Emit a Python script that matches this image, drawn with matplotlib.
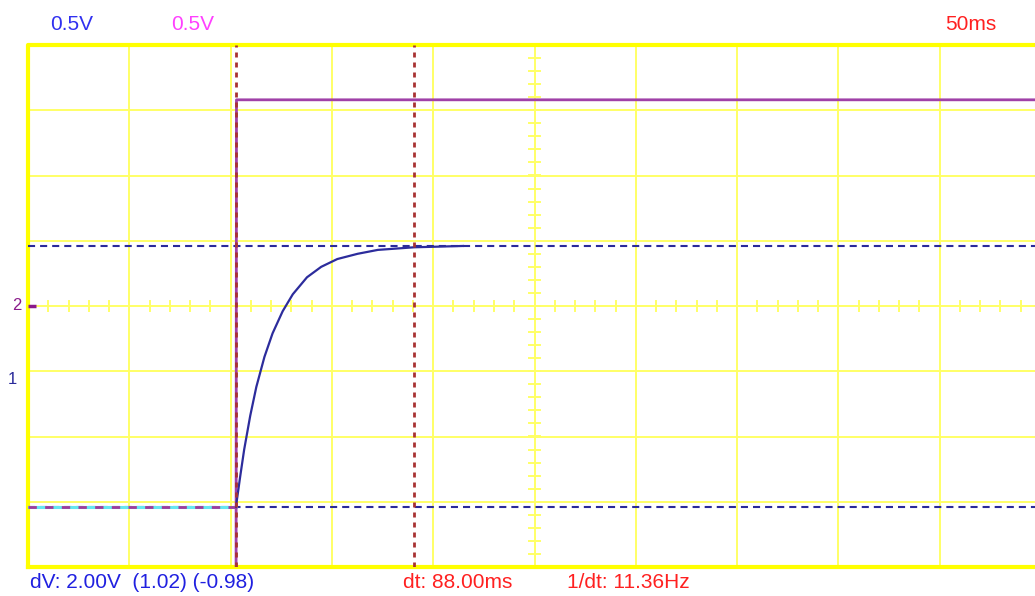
import numpy as np
import matplotlib.pyplot as plt

# scope settings
volts_per_div = 0.5
ms_per_div = 50
ch1_offset_div = -1.12   # ground marker of channel 1
ch2_offset_div = 0.0     # ground marker of channel 2

# cursors
cursor_t = [102.7, 190.7]        # ms
cursor_v = [-0.98, 1.02]         # V (channel 1)

# channel 1 (capacitor voltage)
ch1_pre_t = [0, 102.7]
ch1_pre_v = [-0.98, -0.98]
ch1_t = [102.7, 102.9, 104.7, 106.7, 109.7, 112.7, 116.7, 120.7, 125.7, 130.7,
         137.7, 144.7, 152.7, 162.7, 172.7, 190.7, 214.7]
ch1_v = [-0.98, -0.95, -0.75, -0.54, -0.28, -0.06, 0.17, 0.35, 0.52, 0.65,
         0.78, 0.86, 0.92, 0.96, 0.99, 1.01, 1.02]

# channel 2 (square wave input)
ch2_pre_t = [0, 102.7]
ch2_pre_v = [-1.54, -1.54]
ch2_t = [102.7, 102.7, 102.9, 500]
ch2_v = [-2.1, -2.1, 1.58, 1.58]

top_labels = ['0.5V', '0.5V', '50ms']
bottom_labels = ['dV: 2.00V  (1.02) (-0.98)', 'dt: 88.00ms', '1/dt: 11.36Hz']


def to_div(v, offset):
    return np.asarray(v) / volts_per_div + offset


W, H = 1035, 596
fig = plt.figure(figsize=(W / 100, H / 100), dpi=100)
fig.patch.set_facecolor('white')
ax = fig.add_axes([28 / W, (H - 567) / H, 1013 / W, 522 / H])
ax.set_xlim(0, 10 * ms_per_div)
ax.set_ylim(-4, 4)
ax.axis('off')

grid_col = '#FFFF66'
for i in range(1, 10):
    ax.axvline(i * ms_per_div, color=grid_col, lw=1.4, zorder=1)
for j in range(-3, 4):
    ax.axhline(j, color=grid_col, lw=1.4, zorder=1)

# small ticks on the centre lines
for k in np.arange(-4, 4.01, 0.2):
    ax.plot([250 - 2.5, 250 + 2.5], [k, k], color=grid_col, lw=1.4, zorder=1)
for k in np.arange(0, 500.1, 10):
    ax.plot([k, k], [-0.077, 0.077], color=grid_col, lw=1.4, zorder=1)

# frame
ax.plot([0, 500, 500, 0, 0], [-4, -4, 4, 4, -4], color='#FFFF00', lw=3, zorder=1,
        clip_on=False)

# horizontal cursors (under traces)
for v in cursor_v:
    ax.axhline(to_div(v, ch1_offset_div), color='#2A2A9A', lw=1.5,
               ls=(0, (3.4, 2.4)), zorder=2)

# traces
ax.plot(ch1_pre_t, to_div(ch1_pre_v, ch1_offset_div), color='#66E6F0', lw=2.2, zorder=3)
ax.plot(ch2_pre_t, to_div(ch2_pre_v, ch2_offset_div), color='#A03A9A', lw=2.0,
        ls=(0, (3, 3)), zorder=3)
ax.plot(ch2_t, to_div(ch2_v, ch2_offset_div), color='#A040A8', lw=2.0, zorder=3)
ax.plot(ch1_t, to_div(ch1_v, ch1_offset_div), color='#2C2C9C', lw=1.6, zorder=3)

# vertical cursors (over traces)
for t in cursor_t:
    ax.axvline(t, color='#A83232', lw=2.0, ls=(0, (1.8, 1.8)), zorder=4)

# channel markers
ax.plot([0, 8 * 500 / 1013], [ch2_offset_div, ch2_offset_div], color='#8A1A8A', lw=2.5,
        zorder=5, solid_capstyle='butt')
fig.text(17 / W, 1 - 306 / H, '2', color='#8A1A8A', fontsize=12, ha='center', va='center',
         family='Liberation Sans')
fig.text(12 / W, 1 - 379 / H, '1', color='#2A2A9A', fontsize=12, ha='center', va='center',
         family='Liberation Sans')

# labels
font = dict(fontsize=15, family='Liberation Sans', va='center', ha='left')
fig.text(50 / W, 1 - 25 / H, top_labels[0], color='#3030F0', **font)
fig.text(171 / W, 1 - 25 / H, top_labels[1], color='#FF40FF', **font)
fig.text(945 / W, 1 - 25 / H, top_labels[2], color='#FF2020', **font)
fig.text(30 / W, 1 - 583 / H, bottom_labels[0], color='#2020E0', **font)
fig.text(403 / W, 1 - 583 / H, bottom_labels[1], color='#FF2020', **font)
fig.text(567 / W, 1 - 583 / H, bottom_labels[2], color='#FF2020', **font)

fig.savefig('out.png', dpi=100, facecolor='white')
